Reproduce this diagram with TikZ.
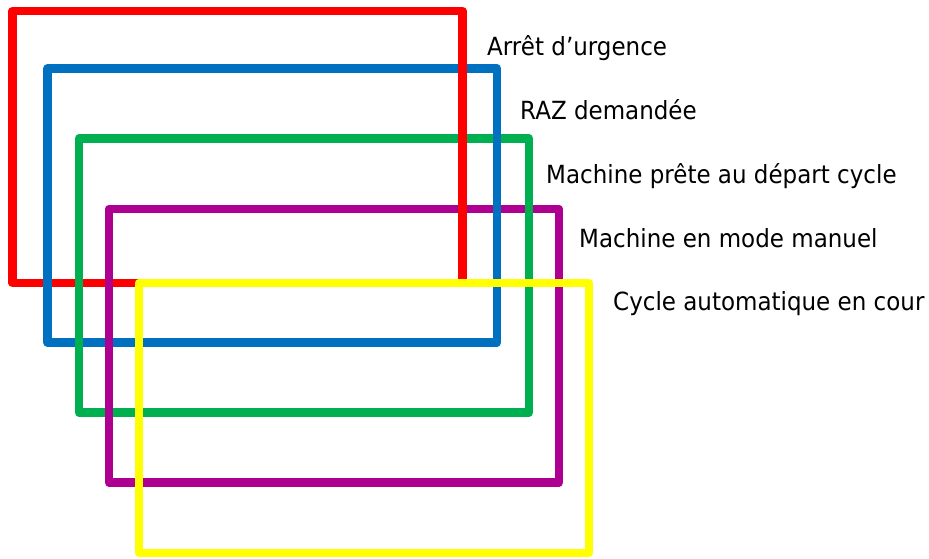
\documentclass[tikz,border=0pt]{standalone}
\usepackage{fontspec}
\setmainfont[FakeStretch=0.92]{DejaVu Sans}
\definecolor{cadreRouge}{HTML}{FF0000}
\definecolor{cadreBleu}{HTML}{0070C0}
\definecolor{cadreVert}{HTML}{00B050}
\definecolor{cadreViolet}{HTML}{AE0090}
\definecolor{cadreJaune}{HTML}{FFFF00}
\tikzset{
  cadre/.style={line width=8.5pt,line join=round},
  etat/.style={anchor=base west,inner sep=0pt,font=\fontsize{25}{29}\selectfont}
}
\begin{document}
\begin{tikzpicture}[x=1pt,y=-1pt]
\useasboundingbox (0,0) rectangle (929,558);
\draw[cadre,cadreRouge] (12.5,11) rectangle (462.5,283);
\draw[cadre,cadreBleu] (47.5,68.5) rectangle (497,342.5);
\draw[cadre,cadreVert] (79,138.5) rectangle (529,412.5);
\draw[cadre,cadreViolet] (109,209) rectangle (559,482.5);
\draw[cadre,cadreJaune] (139,283) rectangle (589,553);
% verticals pass over the horizontals
\draw[cadre,cadreRouge] (12.5,11) -- (12.5,283) (462.5,11) -- (462.5,283);
\draw[cadre,cadreBleu] (47.5,68.5) -- (47.5,342.5) (497,68.5) -- (497,342.5);
\draw[cadre,cadreVert] (79,138.5) -- (79,412.5) (529,138.5) -- (529,412.5);
\draw[cadre,cadreViolet] (109,209) -- (109,482.5) (559,209) -- (559,482.5);
\draw[cadre,cadreJaune] (139,283) -- (589,283);
\node[etat] (arret) at (487,55) {Arrêt d’urgence};
\node[etat] (raz) at (520,119) {RAZ demandée};
\node[etat] (prete) at (546,183) {Machine prête au départ cycle};
\node[etat] (manuel) at (579,247) {Machine en mode manuel};
\node[etat] (auto) at (613,310) {Cycle automatique en cour};
\end{tikzpicture}
\end{document}
